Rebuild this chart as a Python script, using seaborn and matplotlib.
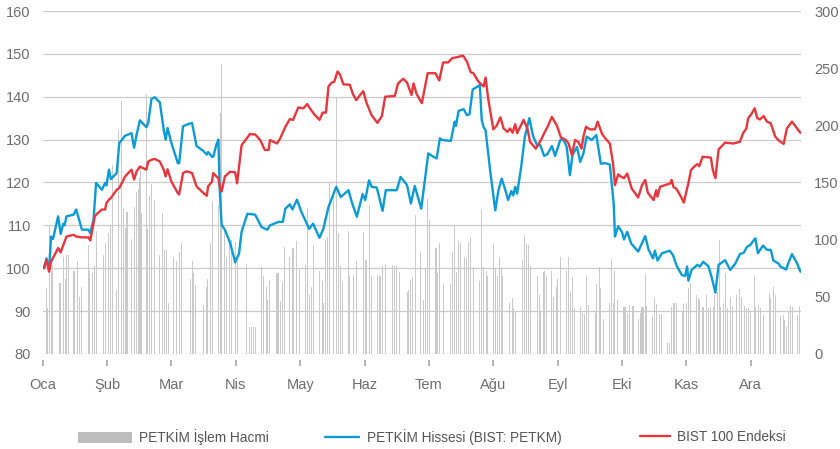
import numpy as np
import pandas as pd
import matplotlib
matplotlib.use('Agg')
import matplotlib.pyplot as plt
from matplotlib.patches import Patch
from matplotlib.lines import Line2D
import seaborn as sns

# x positions are in month units (0 = start of Ocak)
aylar = ['Oca', 'Şub', 'Mar', 'Nis', 'May', 'Haz', 'Tem', 'Ağu', 'Eyl', 'Eki', 'Kas', 'Ara']

petkim_x = [0.02, 0.06, 0.10, 0.13, 0.16, 0.24, 0.28, 0.32, 0.34, 0.37, 0.48, 0.52, 0.61, 0.71, 0.74,
            0.79, 0.83, 0.92, 0.97, 0.99, 1.03, 1.06, 1.15, 1.19, 1.28, 1.38, 1.42, 1.46, 1.51, 1.61,
            1.64, 1.69, 1.74, 1.82, 1.88, 1.91, 1.94, 2.00, 2.10, 2.12, 2.18, 2.24, 2.32, 2.39, 2.50,
            2.55, 2.57, 2.63, 2.65, 2.70, 2.73, 2.75, 2.78, 2.83, 2.91, 2.99, 3.05, 3.09, 3.18, 3.30,
            3.40, 3.49, 3.53, 3.66, 3.73, 3.77, 3.84, 3.88, 3.95, 4.02, 4.14, 4.20, 4.30, 4.36, 4.44,
            4.56, 4.63, 4.75, 4.80, 4.88, 4.97, 5.01, 5.07, 5.11, 5.19, 5.28, 5.33, 5.50, 5.56, 5.66,
            5.72, 5.78, 5.88, 5.99, 6.07, 6.12, 6.17, 6.21, 6.34, 6.40, 6.42, 6.46, 6.54, 6.59, 6.63,
            6.68, 6.77, 6.79, 6.82, 6.85, 6.88, 6.95, 7.03, 7.08, 7.13, 7.18, 7.23, 7.28, 7.31, 7.34,
            7.37, 7.43, 7.49, 7.56, 7.62, 7.68, 7.73, 7.79, 7.84, 7.91, 7.96, 8.04, 8.09, 8.14, 8.19,
            8.23, 8.30, 8.35, 8.40, 8.45, 8.53, 8.60, 8.67, 8.74, 8.81, 8.87, 8.89, 8.94, 9.00, 9.03,
            9.08, 9.14, 9.25, 9.36, 9.41, 9.48, 9.51, 9.55, 9.62, 9.74, 9.79, 9.85, 9.93, 9.98, 10.01,
            10.03, 10.08, 10.17, 10.21, 10.26, 10.34, 10.39, 10.45, 10.50, 10.60, 10.68, 10.76, 10.83,
            10.89, 10.94, 10.99, 11.07, 11.11, 11.19, 11.25, 11.31, 11.35, 11.43, 11.46, 11.55, 11.58,
            11.64, 11.72, 11.77]
petkim = [100.0, 102.3, 99.6, 107.4, 106.8, 112.1, 108.0, 110.4, 110.0, 112.1, 112.5, 113.7, 109.0, 109.0, 108.2,
          111.3, 119.9, 118.3, 119.9, 119.3, 123.0, 120.8, 122.2, 129.2, 130.9, 131.5, 128.1, 131.2, 134.5, 132.9,
          133.9, 139.5, 139.9, 138.7, 132.3, 130.0, 132.7, 129.2, 124.5, 124.5, 133.1, 133.5, 133.9, 128.5, 127.3,
          126.5, 127.1, 126.0, 126.0, 128.9, 130.0, 118.3, 110.1, 109.0, 106.0, 101.4, 103.4, 108.5, 112.7, 112.5,
          109.6, 109.0, 110.0, 110.8, 110.8, 113.9, 114.9, 113.7, 116.0, 113.1, 109.2, 110.4, 107.1, 109.2, 114.3,
          119.0, 116.6, 118.2, 115.5, 112.0, 117.3, 115.9, 120.5, 119.0, 118.8, 113.4, 118.2, 118.2, 121.3, 119.4,
          115.1, 119.2, 113.9, 126.8, 126.0, 125.6, 130.3, 129.9, 129.7, 134.2, 133.2, 136.7, 137.1, 135.7, 135.9,
          141.7, 142.5, 142.8, 134.6, 132.9, 132.2, 122.9, 113.5, 118.2, 120.9, 118.6, 115.9, 118.0, 117.0, 119.0,
          117.4, 123.3, 130.7, 135.0, 130.7, 128.7, 128.7, 126.2, 126.6, 128.5, 126.2, 129.9, 130.0, 128.3, 121.7,
          126.4, 128.3, 124.8, 126.8, 130.7, 129.9, 131.1, 124.4, 124.5, 124.2, 115.1, 107.4, 109.8, 108.4, 106.7,
          108.5, 105.8, 103.9, 107.5, 104.4, 102.3, 104.1, 101.8, 103.5, 104.1, 103.1, 100.5, 98.4, 98.2, 100.4,
          97.1, 99.6, 100.8, 100.4, 101.5, 100.5, 98.0, 94.3, 100.8, 101.9, 99.6, 101.1, 103.3,
          103.6, 105.0, 105.4, 107.0, 103.5, 105.3, 104.3, 104.3, 101.8, 101.1, 100.4, 99.7, 101.1,
          103.3, 101.1, 99.2]

bist_x = [0.02, 0.06, 0.10, 0.13, 0.24, 0.28, 0.32, 0.37, 0.48, 0.52, 0.61, 0.71, 0.74, 0.81, 0.83,
          0.92, 0.97, 0.99, 1.03, 1.06, 1.15, 1.19, 1.28, 1.38, 1.42, 1.46, 1.51, 1.61, 1.64, 1.69,
          1.74, 1.82, 1.88, 1.91, 1.94, 2.00, 2.10, 2.12, 2.18, 2.24, 2.32, 2.39, 2.50, 2.55, 2.57,
          2.63, 2.65, 2.70, 2.73, 2.75, 2.78, 2.83, 2.91, 2.99, 3.02, 3.09, 3.22, 3.30, 3.38, 3.45,
          3.51, 3.53, 3.64, 3.69, 3.77, 3.84, 3.89, 3.97, 4.05, 4.11, 4.15, 4.23, 4.30, 4.35, 4.40,
          4.44, 4.49, 4.53, 4.58, 4.62, 4.67, 4.77, 4.82, 4.87, 4.93, 4.98, 5.03, 5.11, 5.20, 5.27,
          5.32, 5.47, 5.52, 5.60, 5.66, 5.73, 5.76, 5.81, 5.89, 5.98, 6.10, 6.16, 6.22, 6.30, 6.36,
          6.43, 6.53, 6.59, 6.65, 6.69, 6.77, 6.85, 6.88, 6.92, 7.00, 7.05, 7.11, 7.16, 7.22, 7.26,
          7.30, 7.34, 7.37, 7.47, 7.53, 7.57, 7.66, 7.74, 7.80, 7.84, 7.91, 7.99, 8.05, 8.12, 8.17,
          8.22, 8.27, 8.32, 8.37, 8.40, 8.44, 8.50, 8.58, 8.62, 8.69, 8.74, 8.81, 8.86, 8.89, 8.94,
          8.97, 9.03, 9.08, 9.15, 9.25, 9.31, 9.36, 9.40, 9.49, 9.53, 9.55, 9.59, 9.67, 9.75, 9.77,
          9.80, 9.84, 9.90, 9.96, 10.01, 10.03, 10.07, 10.12, 10.17, 10.20, 10.25, 10.31, 10.38, 10.41,
          10.45, 10.50, 10.60, 10.73, 10.83, 10.88, 10.93, 10.96, 11.01, 11.06, 11.10, 11.14, 11.20,
          11.25, 11.31, 11.38, 11.44, 11.51, 11.56, 11.64, 11.70, 11.77]
bist = [100.0, 102.0, 99.2, 101.5, 104.7, 103.7, 105.4, 107.4, 107.8, 107.4, 107.2, 107.2, 106.5, 112.1, 112.5,
        113.7, 113.7, 115.2, 116.0, 116.4, 118.3, 118.7, 121.4, 123.0, 120.7, 122.6, 123.7, 123.0, 124.9, 125.3,
        125.5, 124.9, 123.0, 121.4, 123.1, 120.2, 117.5, 117.2, 122.2, 122.6, 122.2, 119.1, 117.5, 116.9, 119.1,
        120.2, 122.2, 121.4, 121.0, 119.1, 117.9, 121.4, 122.5, 122.4, 119.8, 128.7, 131.3, 131.2, 129.9, 127.6,
        127.6, 129.9, 129.1, 130.3, 133.0, 134.8, 134.6, 137.5, 137.3, 138.3, 137.3, 135.7, 134.6, 136.3, 136.3,
        142.4, 143.3, 143.5, 145.9, 145.1, 142.9, 142.8, 140.6, 139.2, 140.4, 141.3, 138.6, 135.7, 133.9, 135.5,
        140.0, 140.2, 143.1, 144.2, 143.3, 140.4, 143.1, 140.6, 138.5, 145.5, 145.5, 143.8, 148.0, 148.0, 149.0,
        149.2, 149.6, 148.2, 145.7, 145.5, 143.5, 142.4, 144.5, 139.6, 132.4, 133.2, 135.2, 132.6, 131.8, 132.6,
        131.6, 133.6, 131.5, 134.6, 132.6, 129.5, 127.9, 129.9, 131.8, 132.9, 135.3, 133.2, 130.5, 130.0, 129.1,
        126.4, 129.9, 129.5, 127.9, 130.7, 133.0, 132.4, 132.4, 134.2, 131.3, 130.3, 129.1, 124.4, 119.4, 121.9,
        121.5, 121.0, 122.1, 118.6, 116.5, 119.4, 120.6, 117.6, 115.9, 118.2, 116.7, 119.0, 119.4, 119.8, 120.6,
        118.9, 118.6, 117.1, 115.3, 118.6, 119.8, 122.9, 123.7, 124.3, 123.8, 126.0, 125.9, 125.8, 122.9,
        121.0, 127.7, 129.3, 129.1, 129.5, 131.5, 132.6, 135.0, 136.0, 137.3, 135.0, 134.7, 135.5,
        134.2, 133.8, 130.7, 129.7, 129.0, 132.6, 134.2, 133.0, 131.6]

hacim_x = [0.06, 0.08, 0.11, 0.14, 0.16, 0.26, 0.28, 0.32, 0.35, 0.37, 0.40, 0.48, 0.50, 0.54, 0.57,
           0.61, 0.71, 0.73, 0.78, 0.80, 0.84, 0.94, 0.98, 1.02, 1.05, 1.08, 1.15, 1.18, 1.22, 1.25,
           1.29, 1.31, 1.38, 1.43, 1.46, 1.49, 1.50, 1.52, 1.54, 1.61, 1.63, 1.66, 1.69, 1.73, 1.82,
           1.86, 1.89, 1.92, 1.95, 2.03, 2.08, 2.12, 2.16, 2.29, 2.32, 2.34, 2.37, 2.50, 2.54, 2.56,
           2.61, 2.64, 2.73, 2.76, 2.78, 2.82, 2.85, 2.90, 2.94, 2.99, 3.02, 3.17, 3.21, 3.24, 3.27,
           3.30, 3.40, 3.43, 3.47, 3.49, 3.53, 3.64, 3.66, 3.70, 3.73, 3.76, 3.84, 3.88, 3.90, 3.95,
           3.99, 4.08, 4.11, 4.14, 4.18, 4.20, 4.30, 4.34, 4.36, 4.40, 4.43, 4.46, 4.52, 4.56, 4.59,
           4.62, 4.65, 4.75, 4.77, 4.83, 4.88, 4.98, 5.01, 5.03, 5.07, 5.11, 5.20, 5.24, 5.28, 5.33,
           5.44, 5.47, 5.50, 5.55, 5.66, 5.68, 5.72, 5.75, 5.79, 5.87, 5.91, 5.94, 5.98, 6.01, 6.11,
           6.13, 6.16, 6.22, 6.33, 6.37, 6.40, 6.43, 6.46, 6.49, 6.56, 6.59, 6.61, 6.65, 6.69, 6.78,
           6.82, 6.85, 6.89, 6.91, 7.00, 7.03, 7.06, 7.09, 7.12, 7.15, 7.25, 7.30, 7.32, 7.35, 7.46,
           7.49, 7.52, 7.55, 7.58, 7.68, 7.72, 7.74, 7.78, 7.80, 7.83, 7.91, 7.93, 7.98, 8.00, 8.04,
           8.14, 8.17, 8.20, 8.23, 8.26, 8.35, 8.39, 8.41, 8.45, 8.48, 8.58, 8.61, 8.65, 8.67, 8.71,
           8.80, 8.84, 8.87, 8.89, 8.93, 9.03, 9.06, 9.09, 9.12, 9.17, 9.25, 9.28, 9.31, 9.33, 9.36,
           9.38, 9.48, 9.51, 9.54, 9.58, 9.62, 9.70, 9.74, 9.77, 9.80, 9.82, 9.85, 9.94, 9.96, 10.00,
           10.03, 10.06, 10.16, 10.19, 10.21, 10.25, 10.27, 10.31, 10.34, 10.38, 10.42, 10.44, 10.48,
           10.51, 10.53, 10.57, 10.60, 10.64, 10.68, 10.71, 10.78, 10.82, 10.86, 10.90, 10.93, 10.96,
           11.00, 11.06, 11.08, 11.12, 11.15, 11.20, 11.29, 11.31, 11.35, 11.39, 11.46, 11.51, 11.53,
           11.56, 11.58, 11.62, 11.65, 11.72, 11.76]
hacim = [58, 40, 113, 73, 78, 62, 62, 85, 66, 87, 87, 73, 73, 81, 50,
         59, 95, 73, 71, 77, 108, 87, 97, 106, 113, 165, 56, 196, 221, 127,
         110, 124, 101, 129, 142, 144, 154, 165, 123, 227, 109, 138, 149, 135, 87,
         123, 91, 91, 45, 85, 81, 89, 97, 66, 81, 71, 60, 43, 59, 66,
         97, 134, 130, 211, 254, 109, 85, 101, 100, 98, 85, 79, 24, 24, 24,
         24, 76, 68, 59, 47, 65, 71, 71, 46, 63, 94, 85, 93, 93, 99,
         75, 78, 128, 52, 59, 95, 73, 64, 45, 100, 102, 150, 140, 225, 106,
         77, 63, 108, 68, 69, 81, 107, 82, 82, 130, 68, 69, 68, 77, 78,
         78, 77, 78, 72, 54, 56, 65, 67, 122, 89, 47, 75, 136, 117, 93,
         71, 97, 61, 61, 89, 112, 72, 99, 97, 85, 84, 98, 102, 76, 64,
         126, 76, 73, 68, 96, 75, 68, 85, 76, 68, 45, 49, 40, 38, 82,
         104, 96, 95, 77, 68, 52, 38, 72, 73, 68, 73, 50, 59, 66, 85,
         73, 85, 54, 67, 40, 41, 36, 35, 68, 43, 36, 61, 76, 58, 31,
         45, 83, 45, 73, 47, 41, 41, 36, 43, 42, 31, 36, 41, 41, 70,
         42, 33, 49, 44, 35, 35, 10, 10, 41, 45, 45, 45, 38, 44, 45,
         58, 62, 52, 49, 47, 41, 41, 52, 40, 41, 41, 52, 54,
         100, 41, 45, 71, 40, 50, 42, 52, 57, 50, 42, 40, 40,
         36, 68, 41, 43, 40, 34, 53, 49, 59, 52, 33, 34, 30,
         24, 37, 42, 41, 34, 42]

sns.set_theme(style='white')
plt.rcParams['font.family'] = ['Liberation Sans', 'DejaVu Sans']

mavi = '#0b9bd7'
kirmizi = '#e8363d'
gri = '#6e6e6e'

fig = plt.figure(figsize=(8.4, 4.49), dpi=100)
ax = fig.add_axes([0.0508, 0.2116, 0.9028, 0.7639])
ax2 = ax.twinx()

ax2.bar(hacim_x, hacim, width=0.016, color='#cacaca', linewidth=0)
ax2.set_ylim(0, 300)
ax2.set_yticks(range(0, 301, 50))

sns.lineplot(x=petkim_x, y=petkim, ax=ax, color=mavi, linewidth=1.7, sort=False, legend=False)
sns.lineplot(x=bist_x, y=bist, ax=ax, color=kirmizi, linewidth=1.7, sort=False, legend=False)

ax.set_zorder(ax2.get_zorder() + 1)
ax.patch.set_visible(False)

ax.set_ylim(80, 160)
ax.set_yticks(range(80, 161, 10))
ax.set_xlim(0, 11.78)
ax.set_xticks(range(len(aylar)))
ax.set_xticklabels(aylar)
ax.grid(axis='y', color='#cbcbcb', linewidth=0.9)
ax.grid(axis='x', visible=False)

for a in (ax, ax2):
    for s in a.spines.values():
        s.set_visible(False)
ax.spines['bottom'].set_position(('outward', 4.5))

ax.tick_params(axis='y', length=0, pad=8.5, labelsize=10.5, labelcolor=gri)
ax2.tick_params(axis='y', length=0, pad=9.5, labelsize=10.5, labelcolor=gri)
ax.tick_params(axis='x', bottom=True, direction='out', length=4.5, width=1.1, color='#a0a0a0',
               pad=8, labelsize=10.5, labelcolor=gri)
ax.set_xlabel('')
ax.set_ylabel('')
ax2.set_ylabel('')

leg_kw = dict(loc='center left', frameon=False, borderpad=0, borderaxespad=0,
              labelcolor='#555555', fontsize=9.8)
l1 = fig.legend(handles=[Patch(facecolor='#bdbdbd', edgecolor='none', label='PETKİM İşlem Hacmi')],
                bbox_to_anchor=(78 / 840, 1 - 437 / 449), handlelength=4.0, handleheight=0.9,
                handletextpad=0.5, **leg_kw)
l2 = fig.legend(handles=[Line2D([], [], color=mavi, linewidth=1.7, label='PETKİM Hissesi (BIST: PETKM)')],
                bbox_to_anchor=(325 / 840, 1 - 437 / 449), handlelength=2.5,
                handletextpad=0.6, **leg_kw)
l3 = fig.legend(handles=[Line2D([], [], color=kirmizi, linewidth=1.7, label='BIST 100 Endeksi')],
                bbox_to_anchor=(640 / 840, 1 - 437 / 449), handlelength=2.2,
                handletextpad=0.5, **leg_kw)

fig.savefig('out.png', dpi=100)
